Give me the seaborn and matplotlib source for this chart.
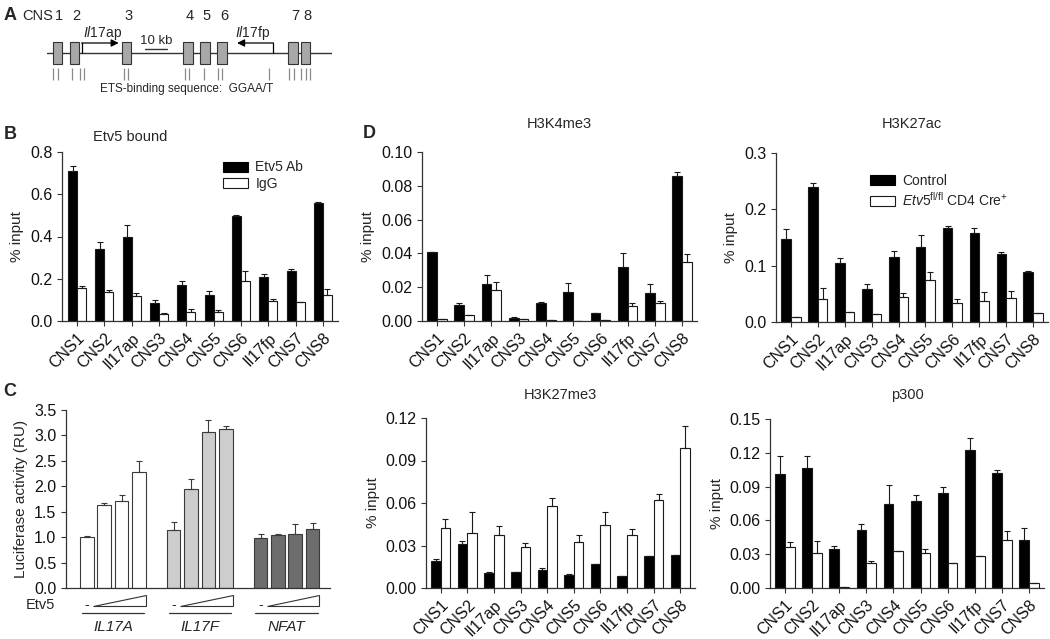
import numpy as np
import pandas as pd
import matplotlib
matplotlib.use('Agg')
import matplotlib.pyplot as plt
import matplotlib.transforms as mtransforms
from matplotlib.patches import Rectangle, Polygon
import seaborn as sns

# ---- data ----
regions = ['CNS1', 'CNS2', 'Il17ap', 'CNS3', 'CNS4', 'CNS5', 'CNS6', 'Il17fp', 'CNS7', 'CNS8']

# B: Etv5 bound
etv5_ab = [0.708, 0.340, 0.397, 0.085, 0.169, 0.125, 0.495, 0.210, 0.237, 0.558]
etv5_ab_err = [0.027, 0.032, 0.057, 0.013, 0.021, 0.016, 0.008, 0.011, 0.008, 0.006]
igg = [0.158, 0.136, 0.119, 0.032, 0.044, 0.044, 0.191, 0.096, 0.090, 0.125]
igg_err = [0.006, 0.011, 0.012, 0.004, 0.011, 0.007, 0.048, 0.007, 0.002, 0.025]

# C: luciferase
luc_constructs = ['IL17A', 'IL17F', 'NFAT']
luc_il17a = [1.01, 1.63, 1.71, 2.28]
luc_il17a_err = [0.01, 0.04, 0.12, 0.22]
luc_il17f = [1.15, 1.95, 3.07, 3.12]
luc_il17f_err = [0.14, 0.20, 0.23, 0.06]
luc_nfat = [0.99, 1.05, 1.06, 1.16]
luc_nfat_err = [0.08, 0.01, 0.19, 0.11]

# D: ChIP, control vs Etv5 fl/fl CD4 Cre+
h3k4_ctrl = [0.0411, 0.0095, 0.0217, 0.0020, 0.0105, 0.0174, 0.0045, 0.0322, 0.0166, 0.0856]
h3k4_ctrl_err = [0.0, 0.0012, 0.0056, 0.0002, 0.0005, 0.0053, 0.0, 0.0079, 0.0053, 0.0025]
h3k4_ko = [0.0012, 0.0034, 0.0182, 0.0010, 0.0006, 0.0, 0.0004, 0.0087, 0.0107, 0.0349]
h3k4_ko_err = [0.0, 0.0004, 0.0049, 0.0, 0.0, 0.0, 0.0, 0.0020, 0.0012, 0.0047]

h3k27ac_ctrl = [0.147, 0.239, 0.104, 0.059, 0.115, 0.134, 0.166, 0.158, 0.120, 0.089]
h3k27ac_ctrl_err = [0.018, 0.008, 0.009, 0.008, 0.011, 0.020, 0.004, 0.009, 0.005, 0.001]
h3k27ac_ko = [0.0095, 0.041, 0.018, 0.0136, 0.044, 0.075, 0.033, 0.038, 0.042, 0.016]
h3k27ac_ko_err = [0.0, 0.019, 0.0, 0.0014, 0.007, 0.013, 0.008, 0.015, 0.013, 0.0]

h3k27me3_ctrl = [0.0191, 0.0314, 0.0104, 0.0113, 0.0125, 0.0092, 0.0170, 0.0085, 0.0224, 0.0232]
h3k27me3_ctrl_err = [0.0017, 0.0019, 0.0012, 0.0, 0.0017, 0.0010, 0.0, 0.0, 0.0, 0.0]
h3k27me3_ko = [0.0425, 0.0390, 0.0373, 0.0286, 0.0576, 0.0328, 0.0442, 0.0373, 0.0619, 0.0987]
h3k27me3_ko_err = [0.0064, 0.0150, 0.0062, 0.0035, 0.0062, 0.0045, 0.0097, 0.0045, 0.0047, 0.0159]

p300_ctrl = [0.1010, 0.1063, 0.0342, 0.0517, 0.0744, 0.0768, 0.0847, 0.1228, 0.1019, 0.0428]
p300_ctrl_err = [0.0165, 0.0107, 0.0027, 0.0050, 0.0168, 0.0056, 0.0048, 0.0107, 0.0032, 0.0103]
p300_ko = [0.0366, 0.0310, 0.0010, 0.0218, 0.0331, 0.0307, 0.0221, 0.0286, 0.0428, 0.0044]
p300_ko_err = [0.0041, 0.0106, 0.0, 0.0018, 0.0, 0.0038, 0.0, 0.0, 0.0077, 0.0]

# A: locus schematic (kb)
locus_kb = 127.6
cns_numbers = ['1', '2', '3', '4', '5', '6', '7', '8']
cns_kb = [4.6, 12.2, 35.6, 63.2, 70.7, 78.4, 110.2, 115.7]
ets_kb = [2.7, 4.8, 11.2, 14.9, 16.7, 34.3, 36.3, 61.6, 63.7, 70.1, 76.4, 78.4,
          99.3, 108.5, 110.4, 113.9, 116.1, 117.9]
il17a_tss, il17a_end = 15.7, 32.1
il17f_tss, il17f_end = 101.2, 85.1
scale_start, scale_kb = 43.7, 10

# ---- style ----
sns.set_style('ticks')
plt.rcParams['font.family'] = ['Liberation Sans', 'DejaVu Sans']
plt.rcParams['mathtext.fontset'] = 'custom'
plt.rcParams['mathtext.rm'] = 'Liberation Sans'
plt.rcParams['mathtext.it'] = 'Liberation Sans:italic'
AX = '#333333'
TICK_FS = 11.5

W, H = 1050, 639
fig = plt.figure(figsize=(W / 100, H / 100), dpi=100)


def px_axes(l, t, r, b):
    return fig.add_axes([l / W, 1 - b / H, (r - l) / W, (b - t) / H])


def style_axes(ax, ymax, step, fmt):
    sns.despine(ax=ax)
    for s in ['left', 'bottom']:
        ax.spines[s].set_color(AX)
        ax.spines[s].set_linewidth(0.9)
    ax.set_ylim(0, ymax)
    ticks = np.arange(0, ymax + step / 2, step)
    ax.set_yticks(ticks)
    ax.set_yticklabels([fmt.format(v) for v in ticks])
    ax.tick_params(axis='both', colors=AX, labelcolor='#111111', labelsize=TICK_FS,
                   length=3.5, width=0.8)


def paired_panel(ax, a, a_err, b, b_err, names, ymax, step, fmt, title, ty, width=0.72):
    df = pd.DataFrame({'region': regions * 2, 'value': a + b,
                       'cond': [names[0]] * len(regions) + [names[1]] * len(regions)})
    sns.barplot(data=df, x='region', y='value', hue='cond', hue_order=names,
                palette=['black', 'white'], edgecolor='#1a1a1a', linewidth=0.8,
                width=width, gap=0, errorbar=None, legend=False, ax=ax)
    for cont, err in zip(ax.containers, [a_err, b_err]):
        xs = [p.get_x() + p.get_width() / 2 for p in cont]
        ys = [p.get_height() for p in cont]
        ax.errorbar(xs, ys, yerr=[np.zeros(len(err)), err], fmt='none', ecolor='#1a1a1a',
                    elinewidth=0.8, capsize=2.5, capthick=0.8)
    ax.set_xlim(-0.55, len(regions) - 0.45)
    style_axes(ax, ymax, step, fmt)
    ax.set_xlabel('')
    ax.set_ylabel('% input', fontsize=11)
    plt.setp(ax.get_xticklabels(), rotation=45, ha='right', rotation_mode='anchor')
    ax.text(0.5, ty, title, transform=ax.transAxes, ha='center', va='center', fontsize=10.5)


def bar_legend(ax, labels, x, y):
    handles = [Rectangle((0, 0), 1, 1, fc='black', ec='black', lw=0.8),
               Rectangle((0, 0), 1, 1, fc='white', ec='#1a1a1a', lw=0.8)]
    ax.legend(handles, labels, frameon=False, loc='upper left', bbox_to_anchor=(x, y),
              fontsize=10, handlelength=1.8, handleheight=0.75, handletextpad=0.5,
              labelspacing=0.2, borderaxespad=0, borderpad=0)


# ---- A: locus ----
axA = px_axes(47, 0, 332, 100)
axA.set_xlim(0, locus_kb)
axA.set_ylim(100, 0)
axA.axis('off')
axA.plot([0, locus_kb], [53, 53], color=AX, lw=1)
for kb, num in zip(cns_kb, cns_numbers):
    axA.add_patch(Rectangle((kb - 2.1, 42), 4.2, 22, fc='#a8a8a8', ec=AX, lw=0.8, zorder=3))
    axA.text(kb + 0.8, 16, num, ha='center', va='center', fontsize=10.5)
axA.text(cns_kb[0] - 1.8, 16, 'CNS', ha='right', va='center', fontsize=10.5)
axA.vlines(ets_kb, 68, 80, color='#8a8a8a', lw=0.9)
axA.text(62.7, 89, 'ETS-binding sequence:  GGAA/T', ha='center', va='center', fontsize=8.5)
for tss, end in [(il17a_tss, il17a_end), (il17f_tss, il17f_end)]:
    axA.plot([tss, tss], [53, 43], color='black', lw=0.9)
    axA.annotate('', xy=(end, 43), xytext=(tss - 0.2 * np.sign(end - tss), 43),
                 arrowprops=dict(arrowstyle='-|>', color='black', lw=0.9, mutation_scale=11,
                                 shrinkA=0, shrinkB=0))
axA.text(il17a_tss + 0.3, 33, r'$\it{Il17}$ap', ha='left', va='center', fontsize=10)
axA.text(il17f_tss - 1.2, 33, r'$\it{Il17}$fp', ha='right', va='center', fontsize=10)
axA.plot([scale_start, scale_start + scale_kb], [49, 49], color=AX, lw=1)
axA.text(scale_start + scale_kb / 2, 47, '10 kb', ha='center', va='bottom', fontsize=9.5)

# ---- B: Etv5 bound ----
axB = px_axes(62, 152, 338, 321)
paired_panel(axB, etv5_ab, etv5_ab_err, igg, igg_err, ['Etv5 Ab', 'IgG'],
             0.8, 0.2, '{:.1f}', 'Etv5 bound', 1.09, width=0.66)
axB.texts[-1].set_position((0.246, 1.09))
bar_legend(axB, ['Etv5 Ab', 'IgG'], 0.585, 0.95)

# ---- C: luciferase ----
axC = px_axes(66, 410, 330, 588)
luc_values = [luc_il17a, luc_il17f, luc_nfat]
luc_errs = [luc_il17a_err, luc_il17f_err, luc_nfat_err]
luc_df = pd.DataFrame({
    'sample': [f'{c}-{i}' for c, v in zip(luc_constructs, luc_values) for i in range(len(v))],
    'value': sum(luc_values, []),
    'construct': [c for c, v in zip(luc_constructs, luc_values) for _ in v],
})
order = []
for c, v in zip(luc_constructs, luc_values):
    order += [f'{c}-{i}' for i in range(len(v))] + [f'{c}-gap']
order = order[:-1]
sns.barplot(data=luc_df, x='sample', y='value', hue='construct', order=order,
            palette=['white', '#cdcdcd', '#6d6d6d'], dodge=False, width=0.78,
            edgecolor='#3a3a3a', linewidth=0.8, errorbar=None, legend=False, ax=axC)
style_axes(axC, 3.5, 0.5, '{:.1f}')
axC.set_xlim(-1.2, len(order))
axC.set_xticks([])
axC.set_xlabel('')
axC.set_ylabel('Luciferase activity (RU)', fontsize=11)
trans = mtransforms.blended_transform_factory(axC.transData, axC.transAxes)
for cont, err, name in zip(axC.containers, luc_errs, luc_constructs):
    bars = list(cont)
    xs = [p.get_x() + p.get_width() / 2 for p in bars]
    ys = [p.get_height() for p in bars]
    axC.errorbar(xs, ys, yerr=[np.zeros(len(err)), err], fmt='none', ecolor='#3a3a3a',
                 elinewidth=0.8, capsize=2.5, capthick=0.8)
    bw = bars[0].get_width()
    axC.text(xs[0], -0.095, '-', transform=trans, ha='center', va='center', fontsize=10,
             clip_on=False)
    x0, x1 = bars[1].get_x() - 0.25, bars[-1].get_x() + bw
    axC.add_patch(Polygon([(x0, -0.1), (x1, -0.1), (x1, -0.04)], closed=True, fc='white',
                          ec=AX, lw=0.8, transform=trans, clip_on=False))
    axC.plot([bars[0].get_x() + 0.1, bars[-1].get_x() + bw - 0.1], [-0.14, -0.14],
             color=AX, lw=0.9, transform=trans, clip_on=False)
    axC.text(np.mean(xs), -0.22, name, transform=trans, ha='center', va='center',
             fontsize=11, style='italic')
axC.text(-0.04, -0.095, 'Etv5', transform=axC.transAxes, ha='right', va='center', fontsize=10.5)

# ---- D: ChIP panels ----
ko_name = r'$\it{Etv5}^{\rm fl/fl}$ CD4 Cre$^{+}$'
axD1 = px_axes(422, 152, 697, 321)
paired_panel(axD1, h3k4_ctrl, h3k4_ctrl_err, h3k4_ko, h3k4_ko_err, ['Control', 'KO'],
             0.10, 0.02, '{:.2f}', 'H3K4me3', 1.165)
axD2 = px_axes(776, 153, 1048, 322)
paired_panel(axD2, h3k27ac_ctrl, h3k27ac_ctrl_err, h3k27ac_ko, h3k27ac_ko_err,
             ['Control', 'KO'], 0.3, 0.1, '{:.1f}', 'H3K27ac', 1.17)
bar_legend(axD2, ['Control', ko_name], 0.345, 0.875)
axD3 = px_axes(426, 418, 695, 588)
paired_panel(axD3, h3k27me3_ctrl, h3k27me3_ctrl_err, h3k27me3_ko, h3k27me3_ko_err,
             ['Control', 'KO'], 0.12, 0.03, '{:.2f}', 'H3K27me3', 1.135)
axD4 = px_axes(770, 419, 1044, 588)
paired_panel(axD4, p300_ctrl, p300_ctrl_err, p300_ko, p300_ko_err, ['Control', 'KO'],
             0.15, 0.03, '{:.2f}', 'p300', 1.14)

# ---- panel letters ----
for letter, x, y in [('A', 10, 15), ('B', 10, 135), ('C', 10, 391), ('D', 369, 134)]:
    fig.text(x / W, 1 - y / H, letter, ha='center', va='center', fontsize=13, fontweight='bold')

fig.savefig('out.png', dpi=100, facecolor='white')
